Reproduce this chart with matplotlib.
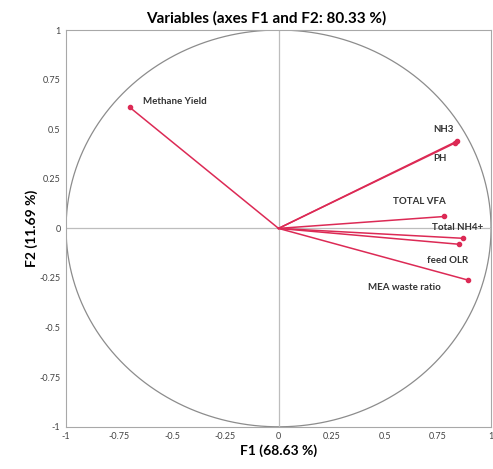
import matplotlib
matplotlib.use("Agg")
import matplotlib.pyplot as plt
import numpy as np

# variable loadings on F1 / F2
names = ["Methane Yield", "NH3", "PH", "TOTAL VFA", "Total NH4+", "feed OLR", "MEA waste ratio"]
f1 = [-0.70, 0.84, 0.83, 0.78, 0.87, 0.85, 0.89]
f2 = [0.61, 0.44, 0.43, 0.06, -0.05, -0.08, -0.26]
# where each label sits (data coords)
label_x = [-0.64, 0.73, 0.73, 0.54, 0.72, 0.70, 0.42]
label_y = [0.64, 0.50, 0.35, 0.135, 0.005, -0.16, -0.30]

ticks = [-1, -0.75, -0.5, -0.25, 0, 0.25, 0.5, 0.75, 1]
tick_labels = ["-1", "-0.75", "-0.5", "-0.25", "0", "0.25", "0.5", "0.75", "1"]

plt.rcParams["font.family"] = ["Lato", "DejaVu Sans"]

fig = plt.figure(figsize=(4.93, 4.69), dpi=100)
ax = fig.add_axes([0.134, 0.090, 0.862, 0.846])

line_color = "#dc2a55"

# correlation circle
theta = np.linspace(0, 2 * np.pi, 400)
ax.plot(np.cos(theta), np.sin(theta), color="#8c8c8c", linewidth=0.9, zorder=1)
ax.axhline(0, color="#bdbdbd", linewidth=0.9, zorder=1)
ax.axvline(0, color="#bdbdbd", linewidth=0.9, zorder=1)

for i, name in enumerate(names):
    ax.plot([0, f1[i]], [0, f2[i]], color=line_color, linewidth=1.1, zorder=3)
    ax.plot(f1[i], f2[i], "o", color=line_color, markersize=3, zorder=4)
    ax.text(label_x[i], label_y[i], name, fontsize=7, fontweight="bold",
            color="#333333", ha="left", va="center")

ax.set_xlim(-1, 1)
ax.set_ylim(-1, 1)
ax.set_xticks(ticks)
ax.set_xticklabels(tick_labels)
ax.set_yticks(ticks)
ax.set_yticklabels(tick_labels)
ax.tick_params(labelsize=6.5, length=0, colors="#444444", pad=4)
for spine in ax.spines.values():
    spine.set_color("#a8a8a8")
    spine.set_linewidth(0.8)

ax.set_title("Variables (axes F1 and F2: 80.33 %)", fontsize=11, fontweight="bold",
             pad=5, x=0.47)
ax.set_xlabel("F1 (68.63 %)", fontsize=10, fontweight="bold", labelpad=2)
ax.set_ylabel("F2 (11.69 %)", fontsize=10, fontweight="bold", labelpad=1)

plt.savefig("out.png", dpi=100)
